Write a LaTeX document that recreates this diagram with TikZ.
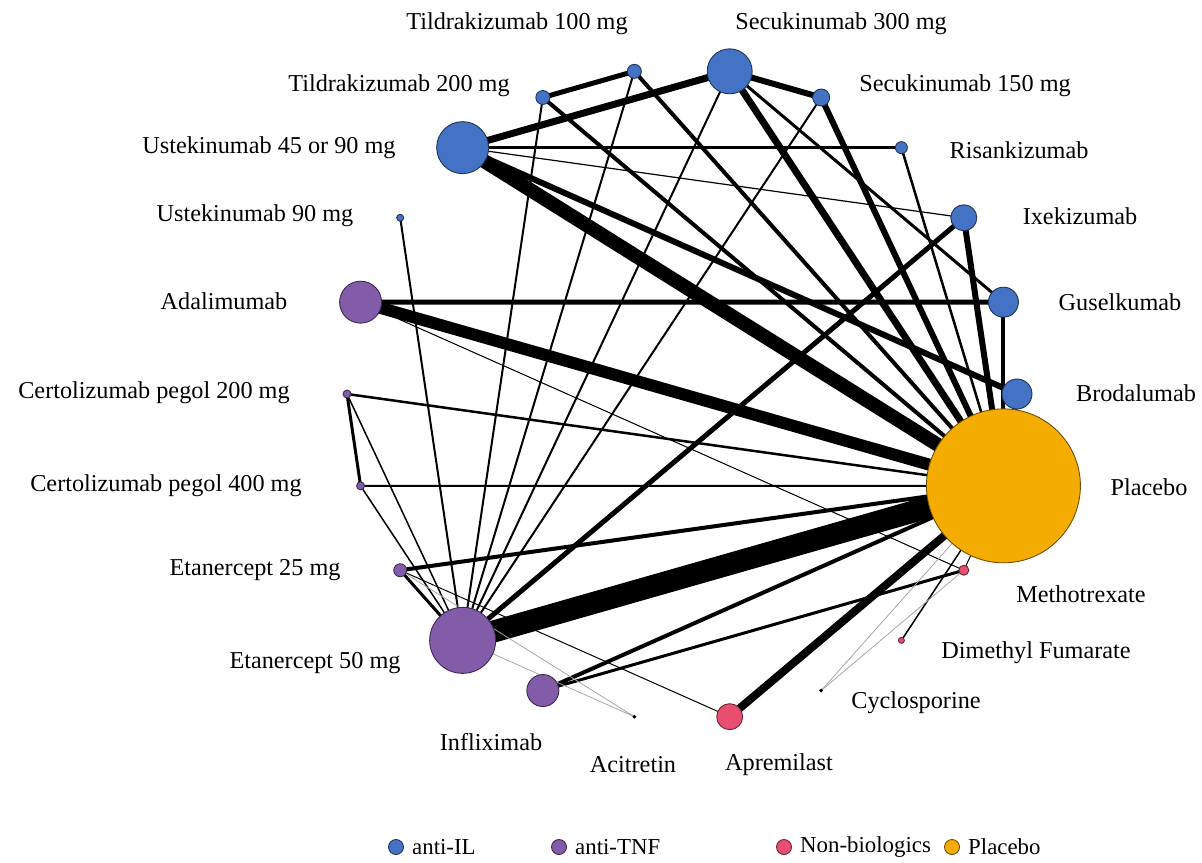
\documentclass[tikz,border=0pt]{standalone}
\usepackage{fontspec}
\setmainfont{Liberation Serif}
\usetikzlibrary{backgrounds}
\usetikzlibrary{positioning}

\definecolor{antiIL}{RGB}{68,114,196}
\definecolor{antiTNF}{RGB}{130,92,168}
\definecolor{nonbio}{RGB}{232,78,112}
\definecolor{pbo}{RGB}{244,172,0}

\tikzset{
  trt/.style 2 args={circle, inner sep=0pt, minimum size=#1*0.04cm, fill=#2, draw=#2!45!black, line width=0.5pt},
  lnk/.style={line width=#1*0.57pt, line cap=butt},
  thn/.style={line width=0.45pt, gray!70},
  lbl/.style={font=\fontsize{13.8}{16}\selectfont, inner sep=0pt},
  lgd/.style={font=\fontsize{13}{15}\selectfont, inner sep=0pt},
}

\begin{document}
\begin{tikzpicture}[x=0.02cm, y=-0.02cm]
  \useasboundingbox (0,0) rectangle (1202,862);
  %--- treatments on the ring
  \foreach \n/\k/\r/\c in {sec300/0/22.5/antiIL, sec150/1/8.5/antiIL, ris/2/6/antiIL,
      ixe/3/13/antiIL, gus/4/15/antiIL, bro/5/15/antiIL, pbo/6/77/pbo,
      mtx/7/5/nonbio, dmf/8/3/nonbio, cyc/9/1.4/black, apr/10/13/nonbio,
      aci/11/1.4/black, inf/12/16/antiTNF, eta50/13/33/antiTNF, eta25/14/6.5/antiTNF,
      cer400/15/4/antiTNF, cer200/16/4/antiTNF, ada/17/21/antiTNF, ust90/18/3.5/antiIL,
      ust4590/19/26/antiIL, til200/20/7/antiIL, til100/21/7/antiIL}
    \node[trt={\r}{\c}] (\n) at ({682+335*sin(8.1818+16.3636*\k)}, {394-326*cos(8.1818+16.3636*\k)}) {};
  %--- comparisons
  \begin{scope}[on background layer]
    \foreach \a/\b/\w in {ust4590/sec300/7, ust4590/ris/3, ust4590/ixe/1.2, ust4590/pbo/14,
        ust4590/bro/6, til200/til100/5, til200/eta50/2, til200/pbo/4, til100/eta50/2,
        til100/pbo/4, sec300/sec150/6, sec300/eta50/2, sec300/pbo/7, sec300/gus/3,
        sec150/eta50/2, sec150/pbo/6, ris/pbo/2.5, ixe/eta50/5, ixe/pbo/6,
        gus/ada/5, gus/pbo/4, bro/pbo/5, ada/pbo/12, ada/mtx/1, ust90/eta50/2,
        cer200/cer400/3, cer200/pbo/2.5, cer200/eta50/1.5, cer400/pbo/2, cer400/eta50/1.5,
        eta25/pbo/4, eta25/eta50/3, eta25/apr/1, eta50/pbo/22, inf/pbo/4, inf/mtx/3,
        apr/pbo/8, dmf/pbo/1.5, mtx/pbo/1}
      \draw[lnk=\w] (\a.center) -- (\b.center);
    \foreach \a/\b in {eta25/aci, eta50/aci, cyc/pbo, cyc/mtx}
      \draw[thn] (\a.center) -- (\b.center);
  \end{scope}
  %--- labels
  \node[lbl] (lTil100) at (517,24) {Tildrakizumab 100 mg};
  \node[lbl] (lSec300) at (841,24) {Secukinumab 300 mg};
  \node[lbl] (lTil200) at (399,86) {Tildrakizumab 200 mg};
  \node[lbl] (lSec150) at (965,86) {Secukinumab 150 mg};
  \node[lbl] (lUst4590) at (269,148) {Ustekinumab 45 or 90 mg};
  \node[lbl] (lRis) at (1019,150) {Risankizumab};
  \node[lbl] (lUst90) at (255,216) {Ustekinumab 90 mg};
  \node[lbl] (lIxe) at (1080,216) {Ixekizumab};
  \node[lbl] (lAda) at (224,301) {Adalimumab};
  \node[lbl] (lGus) at (1120,302) {Guselkumab};
  \node[lbl] (lCer200) at (154,393) {Certolizumab pegol 200 mg};
  \node[lbl] (lBro) at (1136,393) {Brodalumab};
  \node[lbl] (lCer400) at (166,486) {Certolizumab pegol 400 mg};
  \node[lbl] (lPbo) at (1149,487) {Placebo};
  \node[lbl] (lEta25) at (255,570) {Etanercept 25 mg};
  \node[lbl] (lMtx) at (1081,594) {Methotrexate};
  \node[lbl] (lEta50) at (315,663) {Etanercept 50 mg};
  \node[lbl] (lDmf) at (1036,653) {Dimethyl Fumarate};
  \node[lbl] (lCyc) at (916,703) {Cyclosporine};
  \node[lbl] (lInf) at (491,742) {Infliximab};
  \node[lbl] (lAci) at (633,765) {Acitretin};
  \node[lbl] (lApr) at (779,765) {Apremilast};
  %--- legend
  \foreach \n/\x/\c/\t in {lgIL/396/antiIL/anti-IL, lgTNF/559/antiTNF/anti-TNF,
      lgNB/784/nonbio/Non-biologics, lgPbo/952/pbo/Placebo} {
    \node[trt={7.5}{\c}] (\n) at (\x,847) {};
    \node[lgd, right=4.5pt of \n] (\n txt) {\t};
  }
\end{tikzpicture}
\end{document}
